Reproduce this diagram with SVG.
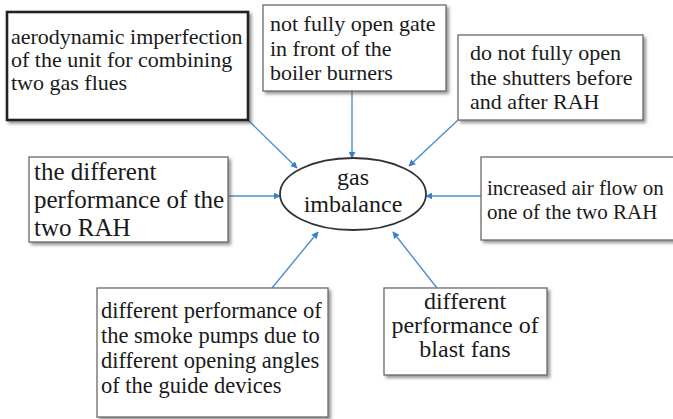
<svg xmlns="http://www.w3.org/2000/svg" width="673" height="419" viewBox="0 0 673 419">
<style>
.box{fill:#fff;stroke:#6a6a6a;stroke-width:1.3;filter:url(#sh)}
.t{font-family:'Liberation Serif','Times New Roman','DejaVu Serif',serif;fill:#1a1a1a}
.c{stroke:#4a8fd0;stroke-width:1.4;fill:none;marker-end:url(#ah)}
</style>
<defs>
<filter id="sh" x="-10%" y="-10%" width="130%" height="130%">
<feDropShadow dx="2.5" dy="2.5" stdDeviation="1.5" flood-color="#555" flood-opacity="0.6"/>
</filter>
<marker id="ah" viewBox="0 0 10 10" refX="9" refY="5" markerWidth="7" markerHeight="7" markerUnits="userSpaceOnUse" orient="auto">
<path d="M0,0 L10,5 L0,10 z" fill="#3a80c8"/>
</marker>
</defs>
<rect width="673" height="419" fill="#fff"/>
<g id="connectors">
<line class="c" x1="248" y1="120" x2="297" y2="168"/>
<line class="c" x1="352" y1="91" x2="352" y2="158"/>
<line class="c" x1="458" y1="120" x2="409" y2="166"/>
<line class="c" x1="228" y1="196" x2="280" y2="196"/>
<line class="c" x1="481" y1="196" x2="426" y2="196"/>
<line class="c" x1="272" y1="288" x2="318" y2="232"/>
<line class="c" x1="437" y1="288" x2="393" y2="232"/>
</g>
<g id="n1">
<rect x="7" y="12" width="241" height="108" fill="#fff" stroke="#222" stroke-width="2.6" filter="url(#sh)"/>
<text class="t" font-family="Liberation Serif, serif" font-size="22"><tspan x="11" y="44">aerodynamic imperfection</tspan><tspan x="11" y="67">of the unit for combining</tspan><tspan x="11" y="90">two gas flues</tspan></text>
</g>
<g id="n2">
<rect class="box" x="263" y="5" width="183" height="86"/>
<text class="t" font-size="22"><tspan x="270" y="31">not fully open gate</tspan><tspan x="270" y="56">in front of the</tspan><tspan x="270" y="80">boiler burners</tspan></text>
</g>
<g id="n3">
<rect class="box" x="458" y="35" width="185" height="85"/>
<text class="t" font-size="22"><tspan x="470" y="60">do not fully open</tspan><tspan x="470" y="85">the shutters before</tspan><tspan x="470" y="109">and after RAH</tspan></text>
</g>
<g id="n4">
<rect class="box" x="29" y="157" width="199" height="85"/>
<text class="t" font-size="25"><tspan x="34" y="180">the different</tspan><tspan x="34" y="208">performance of the</tspan><tspan x="34" y="236">two RAH</tspan></text>
</g>
<g id="center">
<ellipse cx="353" cy="194" rx="73" ry="36" fill="#fff" stroke="#333" stroke-width="1.8"/>
<text class="t" font-size="24" text-anchor="middle"><tspan x="353" y="185">gas</tspan><tspan x="353" y="212">imbalance</tspan></text>
</g>
<g id="n6">
<rect class="box" x="481" y="157" width="196" height="83"/>
<text class="t" font-size="21"><tspan x="487" y="195">increased air flow on</tspan><tspan x="487" y="219">one of the two RAH</tspan></text>
</g>
<g id="n7">
<rect class="box" x="97" y="288" width="231" height="129"/>
<text class="t" font-size="22.5"><tspan x="101" y="318">different performance of</tspan><tspan x="101" y="343">the smoke pumps due to</tspan><tspan x="101" y="368">different opening angles</tspan><tspan x="101" y="393">of the guide devices</tspan></text>
</g>
<g id="n8">
<rect class="box" x="384" y="288" width="163" height="87"/>
<text class="t" font-size="24" text-anchor="middle"><tspan x="465" y="309">different</tspan><tspan x="465" y="333">performance of</tspan><tspan x="465" y="357">blast fans</tspan></text>
</g>
</svg>
